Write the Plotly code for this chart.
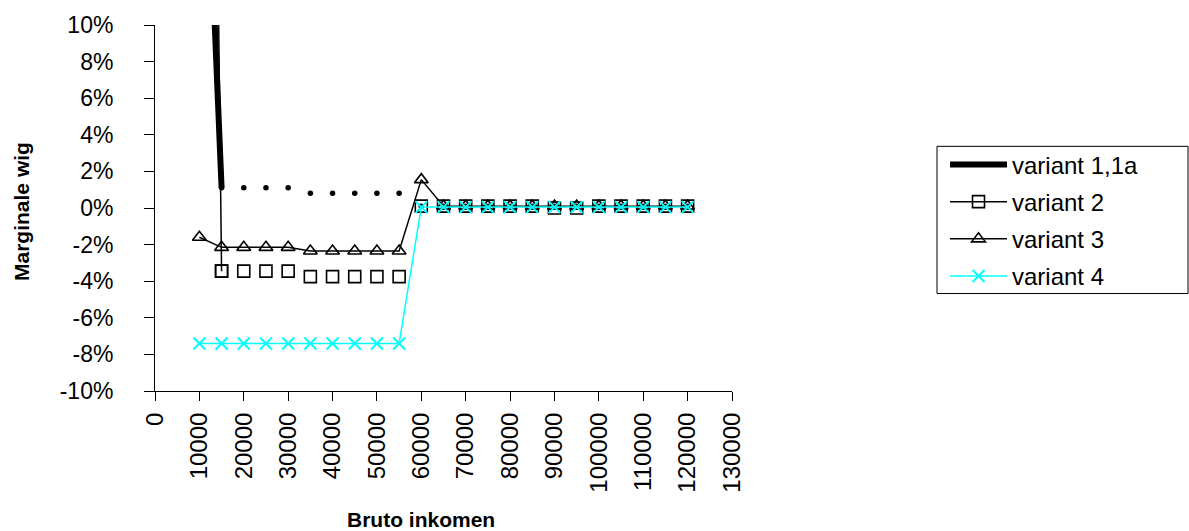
import plotly.graph_objects as go

income = [10000, 15000, 20000, 25000, 30000, 35000, 40000, 45000, 50000, 55000,
          60000, 65000, 70000, 75000, 80000, 85000, 90000, 95000, 100000, 105000,
          110000, 115000, 120000]

# marginale wig in %
v1 = [30.0, 1.1, 1.1, 1.1, 1.1, 0.8, 0.8, 0.8, 0.8, 0.8,
      0.1, 0.1, 0.1, 0.1, 0.1, 0.1, 0.1, 0.1, 0.1, 0.1, 0.1, 0.1, 0.1]
v2 = [100.0, -3.45, -3.45, -3.45, -3.45, -3.75, -3.75, -3.75, -3.75, -3.75,
      0.1, 0.1, 0.1, 0.1, 0.1, 0.1, 0.0, 0.0, 0.1, 0.1, 0.1, 0.1, 0.1]
v3 = [-1.6, -2.15, -2.15, -2.15, -2.15, -2.35, -2.35, -2.35, -2.35, -2.35,
      1.55, 0.1, 0.1, 0.1, 0.1, 0.1, 0.1, 0.1, 0.1, 0.1, 0.1, 0.1, 0.1]
v4 = [-7.4, -7.4, -7.4, -7.4, -7.4, -7.4, -7.4, -7.4, -7.4, -7.4,
      0.05, 0.05, 0.05, 0.05, 0.05, 0.05, 0.05, 0.05, 0.05, 0.05, 0.05, 0.05, 0.05]

names = ["variant 1,1a", "variant 2", "variant 3", "variant 4"]
x_ticks = list(range(0, 130001, 10000))
y_ticks = list(range(-10, 11, 2))

FONT = "Liberation Sans, Arial, sans-serif"
CYAN = "#00FFFF"

fig = go.Figure()

# variant 1,1a: thick segment + dots
fig.add_trace(go.Scatter(x=income[:2], y=v1[:2], mode="lines", name=names[0],
                         line=dict(color="black", width=6), legendgroup="g1"))
fig.add_trace(go.Scatter(x=income[1:], y=v1[1:], mode="markers", showlegend=False,
                         marker=dict(symbol="circle", size=5.5, color="black"),
                         legendgroup="g1"))

# variant 2
fig.add_trace(go.Scatter(x=income[:2], y=v2[:2], mode="lines+markers", name=names[1],
                         line=dict(color="black", width=1.5),
                         marker=dict(symbol="square-open", size=12,
                                     color="black", line=dict(width=1.6)),
                         legendgroup="g2"))
fig.add_trace(go.Scatter(x=income[1:], y=v2[1:], mode="markers", showlegend=False,
                         marker=dict(symbol="square-open", size=12,
                                     color="black", line=dict(width=1.6)),
                         legendgroup="g2"))

# variant 3
fig.add_trace(go.Scatter(x=income, y=v3, mode="lines+markers", name=names[2],
                         line=dict(color="black", width=1.5),
                         marker=dict(symbol="triangle-up-open", size=12,
                                     color="black", line=dict(width=1.6)),
                         legendgroup="g3"))

# variant 4
fig.add_trace(go.Scatter(x=income, y=v4, mode="lines+markers", name=names[3],
                         line=dict(color=CYAN, width=1.5),
                         marker=dict(symbol="x-thin", size=12, color=CYAN,
                                     line=dict(width=2, color=CYAN)),
                         legendgroup="g4"))

fig.update_layout(
    width=1189, height=531,
    margin=dict(l=155, r=457, t=23, b=140),
    paper_bgcolor="white", plot_bgcolor="white",
    font=dict(family=FONT, size=22, color="black"),
    showlegend=True,
    legend=dict(x=(945 - 155) / 577, y=0.6685 + 4 / 368, xanchor="left",
                yanchor="top", borderwidth=0, bgcolor="rgba(0,0,0,0)",
                font=dict(size=24), itemwidth=57, tracegroupgap=3,
                traceorder="grouped"),
    xaxis=dict(range=[0, 130000], tickvals=x_ticks,
               ticktext=[str(v) for v in x_ticks], tickangle=-90,
               showgrid=False, zeroline=False, showline=True,
               linecolor="black", linewidth=1, ticks="outside",
               ticklen=9, tickcolor="black", tickfont=dict(size=24),
               ticklabelstandoff=2),
    yaxis=dict(range=[-10, 10], tickvals=y_ticks,
               ticktext=[f"{v}%" for v in y_ticks],
               showgrid=False, zeroline=False, showline=True,
               linecolor="black", linewidth=1, ticks="outside",
               ticklen=10, tickcolor="black", tickfont=dict(size=23),
               ticklabelstandoff=26),
    shapes=[
        dict(type="rect", xref="paper", yref="paper",
             x0=(937 - 155) / 577, x1=(1188 - 155) / 577,
             y0=(391 - 293) / 368, y1=(391 - 145) / 368,
             line=dict(color="black", width=1), fillcolor="rgba(0,0,0,0)"),
    ],
    annotations=[
        dict(text="<b>Bruto inkomen</b>", xref="paper", yref="paper",
             x=(421 - 155) / 577, y=-(520 - 391) / 368, xanchor="center",
             yanchor="middle", showarrow=False, font=dict(size=21)),
        dict(text="<b>Marginale wig</b>", xref="paper", yref="paper",
             x=-(155 - 22) / 577, y=(391 - 211) / 368, xanchor="center",
             yanchor="middle", showarrow=False, textangle=-90,
             font=dict(size=21)),
    ],
)

fig.write_html("out.html")
